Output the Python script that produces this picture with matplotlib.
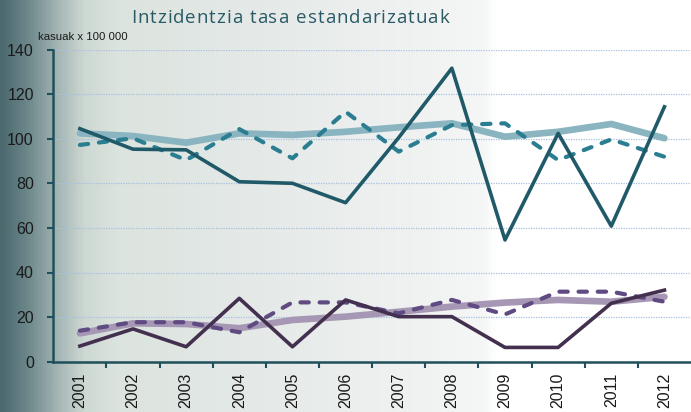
import matplotlib
matplotlib.use("Agg")
import matplotlib.pyplot as plt
import numpy as np
from matplotlib.colors import LinearSegmentedColormap

years = ["2001", "2002", "2003", "2004", "2005", "2006",
         "2007", "2008", "2009", "2010", "2011", "2012"]

# teal group
teal_light = [102.4, 101.2, 98.2, 102.4, 101.7, 103.1, 105.1, 106.9, 100.9, 103.1, 106.6, 100.2]
teal_dash = [97.2, 100.2, 90.4, 104.3, 91.2, 112.1, 94.2, 106.1, 106.9, 90.4, 99.7, 91.9]
teal_dark = [104.5, 95.3, 95.0, 80.7, 80.0, 71.3, 100.5, 131.6, 54.6, 102.4, 60.8, 114.3]

# purple group
purple_light = [12.7, 17.2, 16.9, 15.0, 18.7, 20.2, 22.4, 24.7, 26.5, 27.7, 26.9, 29.1]
purple_dash = [13.9, 17.7, 17.7, 13.2, 26.6, 26.6, 21.7, 27.7, 21.2, 31.4, 31.4, 26.9]
purple_dark = [7.0, 14.7, 6.7, 28.4, 6.7, 27.7, 20.2, 20.2, 6.4, 6.4, 26.2, 32.1]

yticks = [0, 20, 40, 60, 80, 100, 120, 140]

title = "Intzidentzia tasa estandarizatuak"
ylabel = "kasuak x 100 000"

W, H = 691, 412
fig = plt.figure(figsize=(W / 100, H / 100), dpi=100)

# background gradient
bg = fig.add_axes([0, 0, 1, 1], zorder=-10)
bg.axis("off")
cmap = LinearSegmentedColormap.from_list("bg", [
    (0.0, "#4b696e"), (0.04, "#6f8a8d"), (0.08, "#a3b4b3"), (0.12, "#cdd8d3"),
    (0.17, "#dce4df"), (0.45, "#e8eceb"), (0.70, "#f5f6f6"), (0.72, "#ffffff"),
    (1.0, "#ffffff")])
grad = np.linspace(0, 1, 600).reshape(1, -1)
bg.imshow(grad, aspect="auto", cmap=cmap, extent=[0, 1, 0, 1])

ax = fig.add_axes([53.3 / W, 50.3 / H, (W - 53.3) / W, (362.5 - 50.3) / H])
ax.set_facecolor("none")

x = np.arange(len(years))
ax.plot(x, teal_light, color="#8ab5c0", lw=4.8, solid_capstyle="round", zorder=3)
ax.plot(x, purple_light, color="#a698b5", lw=4.8, solid_capstyle="round", zorder=3)
ax.plot(x, teal_dash, color="#2b7e91", lw=3.0, dashes=(2.0, 2.6),
        dash_capstyle="round", zorder=4)
ax.plot(x, purple_dash, color="#5f4a82", lw=3.0, dashes=(2.0, 2.6),
        dash_capstyle="round", zorder=4)
ax.plot(x, teal_dark, color="#205a68", lw=2.6, zorder=5)
ax.plot(x, purple_dark, color="#43304f", lw=2.6, zorder=5)

ax.set_xlim(-0.5, len(years) - 0.5)
ax.set_ylim(0, 140)

ax.set_yticks(yticks)
ax.set_yticklabels([str(v) for v in yticks])
for g in yticks[1:]:
    ax.axhline(g, color="#a8c0e0", lw=0.9, ls=(0, (1, 1)), zorder=1)

ax.set_xticks(x)
ax.set_xticklabels(years, rotation=90)
ax.set_xticks(np.arange(0.5, len(years) - 1, 1), minor=True)

spine_col = "#1f4f5a"
for s in ["top", "right"]:
    ax.spines[s].set_visible(False)
for s in ["left", "bottom"]:
    ax.spines[s].set_color(spine_col)
    ax.spines[s].set_linewidth(1.8)

ax.tick_params(axis="x", which="major", length=0, pad=8)
ax.tick_params(axis="x", which="minor", length=4, width=1.5, color=spine_col, direction="out")
ax.tick_params(axis="y", length=4, width=1.5, color=spine_col, pad=10)
for lab in ax.get_xticklabels() + ax.get_yticklabels():
    lab.set_fontfamily("Liberation Sans")
    lab.set_fontsize(11.5)
    lab.set_color("#1a1a1a")

fig.text(38 / W, 1 - 37 / H, ylabel, fontsize=8.2, family="Liberation Sans",
         color="#1a1a1a", va="center", ha="left")

# title with letter spacing, laid out char by char
fig.canvas.draw()
renderer = fig.canvas.get_renderer()
fs = 13.5
spacing = 0.9
widths = []
for ch in title:
    t = fig.text(0, 0, ch if ch != " " else "n", fontsize=fs, family="Open Sans")
    w = t.get_window_extent(renderer).width
    if ch == " ":
        w *= 0.5
    widths.append(w)
    t.remove()
total = sum(widths) + spacing * (len(title) - 1)
cx = 290
pos = cx - total / 2
for ch, w in zip(title, widths):
    if ch != " ":
        fig.text(pos / W, 1 - 18 / H, ch, fontsize=fs, family="Open Sans",
                 color="#2a5a66", va="center", ha="left")
    pos += w + spacing

fig.savefig("out.png", dpi=100)
